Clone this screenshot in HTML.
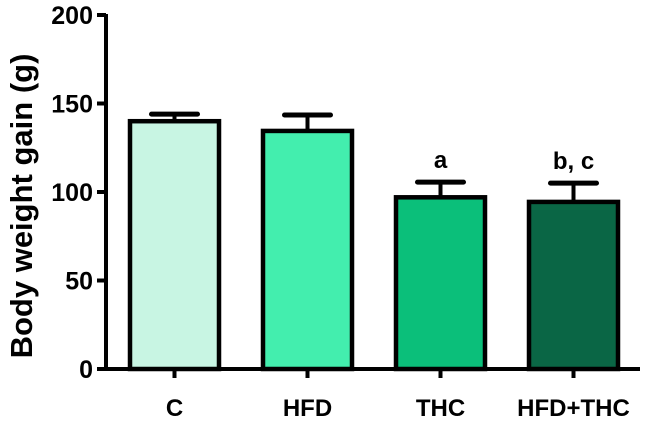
<!DOCTYPE html>
<html><head><meta charset="utf-8"><style>
body{margin:0;background:#fff;}
svg{display:block;font-family:"Liberation Sans",Arial,sans-serif;font-weight:bold;}
</style></head><body>
<svg id="chart" width="646" height="421" viewBox="0 0 646 421"></svg>
<script>
const categories = ["C","HFD","THC","HFD+THC"];
const means = [140, 134.5, 97, 94.4];
const errors = [4, 9, 8.6, 10.6];
const annotations = ["", "", "a", "b, c"];
const colors = ["#c8f5e3","#43eeae","#0bbf7a","#0a6645"];
const yTicks = [0,50,100,150,200];

const NS="http://www.w3.org/2000/svg";
const svg=document.getElementById('chart');
const x0=106, y0=369, yTop=15, yMax=200;
const y=v=>y0-(v/yMax)*(y0-yTop);
const xc=i=>174.5+i*133;
const bw=89;
function mk(t,a){const e=document.createElementNS(NS,t);for(const k in a)e.setAttribute(k,a[k]);svg.appendChild(e);return e;}

let ya=mk('line',{x1:x0,y1:yTop-1,x2:x0,y2:y0+2,stroke:'#000','stroke-width':4});


let xa=mk('line',{x1:x0-2,y1:y0,x2:640,y2:y0,stroke:'#000','stroke-width':4});



yTicks.forEach(v=>{
  let t=mk('line',{x1:97,y1:y(v),x2:x0,y2:y(v),stroke:'#000','stroke-width':4});
  
  
  let l=mk('text',{x:93,y:y(v)+9,'text-anchor':'end','font-size':25,fill:'#000'});
  l.textContent=v;
  
  
});

let title=mk('text',{x:0,y:0,transform:'translate(32,206) rotate(-90)','text-anchor':'middle','font-size':31,fill:'#000'});
title.textContent='Body weight gain (g)';



categories.forEach((c,i)=>{
  const cx=xc(i);
  const top=y(means[i]), et=y(means[i]+errors[i]);
  let eb=mk('line',{x1:cx,y1:top,x2:cx,y2:et,stroke:'#000','stroke-width':4});
  
  
  let cap=mk('line',{x1:cx-23,y1:et,x2:cx+23,y2:et,stroke:'#000','stroke-width':5,'stroke-linecap':'round'});
  
  
  let b=mk('rect',{x:cx-bw/2,y:top,width:bw,height:y0-top,fill:colors[i],stroke:'#000','stroke-width':4.5});
  
  
  let t=mk('line',{x1:cx,y1:y0,x2:cx,y2:378,stroke:'#000','stroke-width':4});
  
  
  let l=mk('text',{x:cx,y:416,'text-anchor':'middle','font-size':24,fill:'#000'});
  l.textContent=c;
  
  
  if(annotations[i]){
    let a=mk('text',{x:cx,y:et-14,'text-anchor':'middle','font-size':24,fill:'#000'});
    a.textContent=annotations[i];
    
    
  }
});
</script>
</body></html>
